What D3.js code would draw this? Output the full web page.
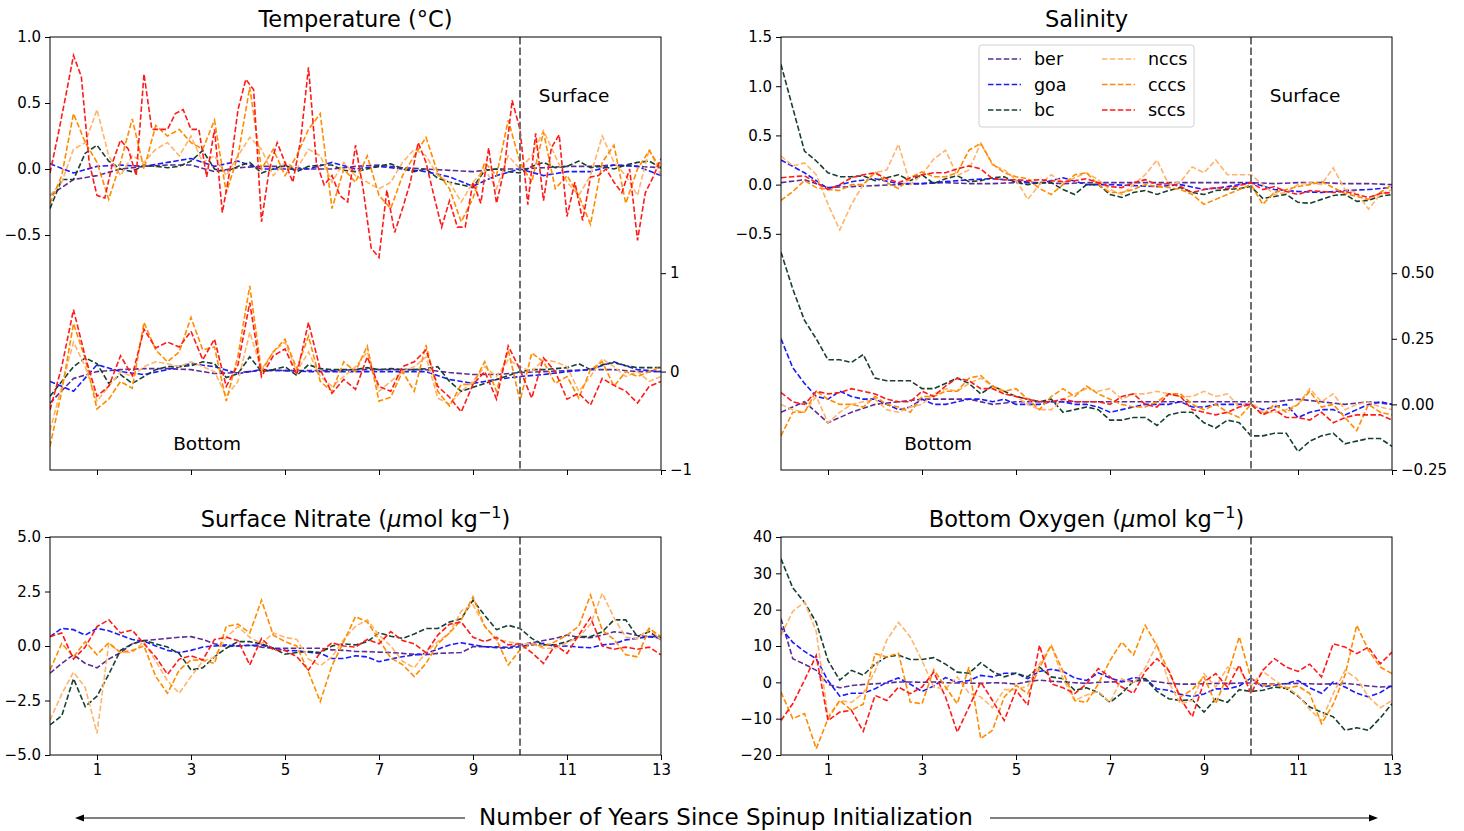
<!DOCTYPE html>
<html><head><meta charset="utf-8">
<script src="https://cdn.jsdelivr.net/npm/d3@7"></script>
<style>body{margin:0;background:#fff}svg{display:block}text{font-family:"DejaVu Sans",sans-serif;fill:#000}</style>
</head><body><svg id="c" width="1464" height="831"></svg>
<script>
const years = [1,3,5,7,9,11,13];
const seriesNames = ["ber","goa","bc","nccs","cccs","sccs"];
const seriesColors = ["#5b2c92","#1a1aff","#17402f","#ffb46a","#ff8c00","#ff1a1a"];

// Temperature, surface (left axis)
const tempSurfBer = [-0.20,-0.08,-0.05,0.00,0.02,0.03,0.03,-0.02,0.01,0.02,0.02,0.00,0.00,0.02,0.03,0.01,0.00,-0.01,-0.02,0.00,0.00,0.01,0.02,0.02,0.03,0.02,0.01];
const tempSurfGoa = [0.04,-0.03,0.02,0.03,0.02,0.05,0.08,0.02,0.06,0.00,0.00,0.00,0.05,0.00,0.02,0.00,-0.02,-0.06,-0.13,-0.05,0.00,-0.05,-0.02,-0.02,0.03,0.02,-0.05];
const tempSurfBc = [-0.30,-0.08,-0.08,0.12,0.18,0.06,0.00,-0.02,0.03,0.02,0.01,0.02,0.06,0.14,0.00,-0.02,0.02,0.05,-0.03,0.00,0.03,-0.02,0.02,0.03,0.03,-0.01,-0.02,0.00,0.02,0.04,0.00,-0.02,0.00,-0.07,-0.10,-0.12,-0.14,-0.01,0.00,-0.02,-0.03,0.02,0.05,0.01,0.02,0.06,0.01,0.02,0.00,0.03,0.05,0.06,0.01];
const tempSurfNccs = [-0.20,-0.10,0.15,0.20,0.45,0.10,-0.05,0.10,0.05,0.15,0.20,0.10,0.25,0.05,0.10,-0.05,0.10,0.24,0.15,-0.05,0.05,0.00,0.15,0.10,-0.10,0.05,-0.05,-0.10,-0.15,-0.10,0.05,0.15,0.10,-0.05,-0.10,-0.25,-0.10,0.00,-0.15,0.10,0.00,0.10,0.29,0.10,-0.10,-0.20,-0.05,0.25,0.05,-0.05,-0.20,0.15,-0.05];
const tempSurfCccs = [-0.26,-0.05,0.42,0.20,0.05,-0.23,0.05,0.38,0.00,0.33,0.25,0.30,0.20,0.15,0.37,-0.18,0.10,0.62,0.00,0.15,-0.05,0.10,0.30,0.42,-0.30,0.00,-0.10,0.10,-0.20,-0.30,-0.05,0.10,0.24,-0.03,-0.15,-0.40,-0.22,0.05,-0.05,0.37,0.05,-0.10,0.28,-0.15,-0.05,-0.20,-0.42,0.05,0.18,-0.26,0.00,0.14,0.00];
const tempSurfSccs = [-0.03,0.25,0.55,0.86,0.70,0.05,-0.20,-0.22,0.05,0.22,0.15,-0.05,0.72,0.30,0.30,0.30,0.42,0.45,0.30,0.30,-0.06,0.30,-0.33,0.00,0.45,0.68,0.60,-0.40,0.00,0.20,0.05,-0.10,0.22,0.77,0.05,-0.12,-0.05,-0.20,-0.25,0.18,-0.16,-0.60,-0.67,-0.16,-0.48,-0.30,-0.10,0.20,0.05,-0.20,-0.44,-0.24,-0.44,-0.44,-0.10,-0.26,0.16,-0.26,0.00,0.52,0.30,-0.27,0.27,-0.24,0.16,0.26,-0.36,-0.10,-0.39,-0.06,-0.05,0.00,-0.10,-0.18,0.00,-0.54,-0.18,-0.06,0.08];

// Temperature, bottom (right axis)
const tempBotBer = [-0.32,-0.07,0.00,0.02,0.03,0.03,0.02,-0.02,-0.01,0.01,0.01,0.01,0.01,0.02,0.02,0.02,0.02,-0.01,-0.03,-0.03,-0.01,0.00,0.01,0.02,0.02,0.00,0.00];
const tempBotGoa = [-0.10,-0.20,0.07,0.00,-0.03,0.02,0.08,0.05,-0.02,0.02,0.01,0.00,0.00,0.00,0.00,0.00,0.00,-0.08,-0.12,-0.08,-0.05,-0.03,0.00,0.02,0.10,0.02,0.00];
const tempBotBc = [-0.25,-0.10,0.05,0.14,0.08,-0.12,-0.03,-0.12,-0.05,0.02,0.05,0.05,0.06,0.10,0.08,-0.06,-0.02,0.15,0.00,0.02,0.05,-0.04,0.07,0.03,0.02,0.02,0.02,0.04,0.02,0.03,0.02,0.02,0.03,0.05,-0.10,-0.20,-0.16,-0.12,-0.08,-0.04,0.00,0.02,0.02,0.03,0.04,0.08,0.02,0.07,0.09,0.06,0.04,0.04,0.04];
const tempBotNccs = [-0.60,-0.15,0.30,0.05,-0.30,-0.15,0.00,-0.05,0.05,0.10,0.08,0.05,0.10,0.05,0.00,-0.25,-0.10,0.40,0.02,0.20,0.30,0.00,0.20,-0.05,-0.15,-0.05,0.05,0.20,-0.20,-0.10,0.00,0.05,0.15,-0.27,-0.33,-0.20,-0.10,0.05,-0.05,0.12,0.05,0.00,0.12,0.10,0.05,-0.20,-0.05,0.13,0.05,-0.05,0.00,-0.10,-0.05];
const tempBotCccs = [-0.76,-0.20,0.49,0.13,-0.38,-0.28,-0.10,-0.17,0.50,0.22,0.10,0.20,0.55,0.22,0.25,-0.30,0.16,0.87,0.00,0.20,0.33,0.03,0.36,-0.10,-0.20,0.10,0.00,0.26,-0.30,-0.26,0.00,-0.20,0.27,-0.20,-0.35,-0.13,-0.13,0.10,-0.20,0.22,-0.30,0.19,0.10,-0.12,-0.05,-0.27,0.02,0.10,-0.15,0.00,-0.05,0.00,0.05];
const tempBotSccs = [-0.39,0.05,0.63,0.15,-0.25,-0.15,0.16,-0.04,0.43,0.24,0.30,0.25,0.41,0.12,0.33,-0.15,0.07,0.70,-0.05,0.16,0.23,-0.03,0.50,0.02,-0.22,-0.08,-0.18,0.15,-0.15,-0.20,0.05,0.10,0.22,-0.15,-0.26,-0.41,-0.13,0.00,-0.28,0.26,0.02,-0.27,0.14,0.00,-0.28,-0.22,-0.34,-0.07,-0.14,-0.20,-0.32,-0.15,-0.10];

// Salinity, surface (left axis)
const salSurfBer = [0.02,0.05,-0.03,-0.02,-0.01,0.00,0.01,0.02,0.01,0.01,0.02,0.02,0.01,0.02,0.02,0.02,0.02,0.02,0.02,0.02,0.02,0.01,0.02,0.02,0.01,0.01,0.00];
const salSurfGoa = [0.25,0.12,-0.04,0.03,0.06,0.01,0.01,0.03,0.05,0.06,0.04,0.01,0.07,0.00,0.00,-0.01,-0.02,0.00,-0.05,-0.02,0.02,-0.05,-0.07,-0.08,-0.06,-0.05,-0.03];
const salSurfBc = [1.22,0.78,0.34,0.24,0.12,0.08,0.08,0.09,0.04,0.07,0.10,0.04,0.10,0.01,0.06,0.09,0.03,0.04,0.07,0.08,0.02,0.00,0.02,0.02,-0.05,-0.10,0.00,0.00,-0.10,-0.13,-0.08,-0.06,-0.10,-0.06,-0.03,-0.08,-0.10,-0.06,-0.05,-0.04,-0.02,-0.14,-0.12,-0.10,-0.18,-0.19,-0.15,-0.11,-0.10,-0.17,-0.16,-0.12,-0.10];
const salSurfNccs = [0.29,0.19,0.22,0.10,-0.20,-0.46,-0.20,0.00,0.12,0.15,0.41,0.00,0.10,0.26,0.35,0.09,0.15,0.42,0.20,0.15,0.05,-0.15,0.00,0.10,0.02,0.07,0.12,0.05,-0.05,-0.10,0.00,0.10,0.25,0.00,0.03,0.18,0.12,0.25,0.10,0.10,0.10,0.00,-0.10,-0.08,0.00,0.02,0.00,0.17,-0.05,-0.08,-0.25,-0.10,-0.05];
const salSurfCccs = [-0.16,-0.07,0.04,-0.03,-0.05,-0.06,0.00,0.00,0.13,0.02,-0.04,0.07,0.13,0.08,0.08,0.12,0.35,0.42,0.21,0.12,0.08,0.06,-0.04,-0.10,0.00,0.10,0.12,0.00,-0.08,-0.08,-0.05,0.00,-0.02,-0.03,-0.05,-0.10,-0.20,-0.15,-0.10,-0.05,0.00,-0.20,-0.08,-0.05,-0.02,0.00,0.03,-0.03,-0.09,-0.12,-0.15,-0.08,0.00];
const salSurfSccs = [0.07,0.08,0.09,0.02,-0.05,0.00,0.07,0.10,0.12,0.06,0.02,0.07,0.10,0.12,0.12,0.16,0.19,0.16,0.06,0.05,0.05,0.04,0.05,0.04,0.03,0.04,0.06,0.02,-0.02,-0.03,0.02,0.05,0.00,0.01,-0.02,-0.08,-0.05,-0.03,-0.04,-0.01,0.02,-0.05,-0.02,-0.07,-0.10,-0.06,-0.07,-0.08,-0.07,-0.10,-0.13,-0.09,-0.08];

// Salinity, bottom (right axis)
const salBotBer = [-0.03,0.01,-0.07,-0.03,0.00,0.01,0.02,0.02,0.02,0.00,0.01,0.01,0.01,0.01,0.01,0.01,0.01,0.01,0.01,0.01,0.01,0.01,0.02,0.01,0.00,0.01,0.00];
const salBotGoa = [0.25,0.14,0.08,0.03,0.02,0.05,0.03,0.02,0.02,0.00,-0.02,-0.01,0.02,0.00,0.00,0.01,0.02,0.02,0.01,0.02,0.00,0.00,0.00,0.01,0.01,0.00,0.00,-0.01,-0.03,-0.02,-0.01,0.00,0.00,0.00,0.01,-0.01,-0.01,0.00,0.00,0.00,0.00,-0.02,-0.01,0.00,-0.05,-0.03,-0.02,-0.02,-0.04,-0.02,0.00,0.01,0.00];
const salBotBc = [0.58,0.44,0.32,0.25,0.17,0.17,0.16,0.19,0.10,0.09,0.09,0.09,0.06,0.06,0.08,0.10,0.08,0.04,0.07,0.05,0.03,0.02,0.01,0.02,-0.03,-0.02,-0.01,-0.02,-0.06,-0.06,-0.05,-0.05,-0.08,-0.04,-0.03,-0.03,-0.07,-0.09,-0.06,-0.07,-0.12,-0.12,-0.11,-0.11,-0.18,-0.14,-0.12,-0.11,-0.15,-0.14,-0.13,-0.13,-0.16];
const salBotNccs = [0.00,-0.02,-0.03,0.03,-0.07,-0.03,0.00,0.01,0.02,-0.02,-0.03,-0.01,0.00,0.04,0.06,0.05,0.08,0.10,0.07,0.04,0.03,0.00,-0.02,-0.02,0.02,0.04,0.06,0.05,0.06,0.02,0.04,0.04,0.05,0.04,0.03,0.03,0.05,0.03,0.04,-0.01,0.01,-0.03,-0.03,-0.02,0.00,0.06,0.01,0.04,-0.02,0.00,0.01,-0.01,-0.02];
const salBotCccs = [-0.12,-0.03,-0.03,0.05,0.02,0.00,0.00,-0.01,0.03,0.00,-0.01,-0.03,0.03,0.03,0.05,0.05,0.10,0.11,0.07,0.05,0.06,0.02,-0.02,0.03,0.06,0.03,0.07,0.04,0.02,0.00,-0.01,-0.01,0.01,0.04,0.04,0.00,-0.02,0.00,-0.03,-0.05,0.00,-0.04,0.00,-0.03,0.00,0.05,-0.01,0.00,-0.05,-0.10,0.00,-0.03,-0.04];
const salBotSccs = [0.045,0.01,0.00,0.05,0.04,0.045,0.06,0.05,0.04,0.02,0.01,0.01,0.05,0.03,0.07,0.10,0.09,0.06,0.06,0.04,0.03,0.02,0.01,0.01,0.02,0.01,0.01,0.01,0.00,0.03,0.04,0.00,-0.01,0.04,0.03,-0.02,-0.03,-0.04,-0.03,-0.01,0.00,-0.04,-0.02,-0.05,-0.05,-0.06,-0.03,-0.07,-0.05,-0.04,-0.04,-0.04,-0.06];

// Surface nitrate
const nitBer = [-1.25,-0.80,-0.40,-0.80,-1.00,-0.60,-0.30,0.10,0.25,0.30,0.35,0.40,0.43,0.30,0.10,-0.03,0.00,0.05,-0.05,-0.10,-0.10,-0.10,-0.10,-0.10,-0.18,-0.20,-0.25,-0.26,-0.28,-0.30,-0.34,-0.38,-0.40,-0.34,-0.32,-0.30,-0.03,-0.03,-0.04,-0.06,0.05,0.15,0.25,0.35,0.50,0.40,0.38,0.50,0.65,0.60,0.48,0.43,0.43];
const nitGoa = [0.43,0.81,0.75,0.50,0.81,0.70,0.50,0.30,0.22,0.00,-0.20,-0.30,-0.20,-0.05,0.00,0.05,0.00,0.02,0.05,-0.10,-0.20,-0.22,-0.28,-0.34,-0.57,-0.57,-0.45,-0.50,-0.72,-0.60,-0.49,-0.41,-0.34,-0.15,0.05,0.15,0.05,-0.03,-0.08,-0.10,-0.03,0.05,0.12,-0.03,0.00,-0.05,-0.08,0.05,0.10,0.28,0.35,0.43,0.35];
const nitBc = [-3.62,-3.20,-1.50,-2.78,-2.30,-1.30,-0.20,0.10,0.25,0.10,-0.05,-0.35,-1.10,-1.00,-0.50,-0.10,0.20,0.20,0.10,-0.10,-0.38,-0.30,-0.25,-0.30,0.00,0.10,0.05,0.20,0.60,0.45,0.35,0.55,0.80,0.80,1.10,1.25,2.10,1.40,0.75,0.95,0.80,0.35,0.05,0.05,0.20,0.43,0.43,0.65,1.20,1.20,0.43,0.66,0.28];
const nitNccs = [-3.40,-2.20,-1.20,-1.90,-4.00,0.10,-0.30,-0.30,0.20,-0.70,-1.60,-2.17,-1.40,-0.70,-0.50,0.40,0.89,0.40,0.10,0.60,0.40,0.30,-0.60,-0.90,-0.50,0.30,0.90,1.20,0.50,0.00,-0.70,-1.00,-0.30,0.20,0.60,1.60,1.90,0.90,0.30,0.20,0.10,0.10,-0.10,-0.10,0.15,0.40,1.00,2.42,1.30,0.40,0.35,0.80,0.28];
const nitCccs = [-1.10,0.12,-0.50,0.20,-0.40,0.15,-0.30,-0.20,0.00,-1.40,-2.17,-1.10,-0.64,-0.65,-0.80,0.90,1.00,0.60,2.10,0.50,0.20,0.00,-1.20,-2.55,-0.90,0.20,1.35,1.10,0.30,-0.55,-0.85,-1.40,-0.80,0.10,0.60,1.20,2.26,0.90,0.30,-0.87,-0.18,0.10,-0.03,0.20,0.50,0.90,2.34,0.73,0.30,-0.40,-0.50,0.81,0.43];
const nitSccs = [0.43,0.60,-0.60,-0.05,0.89,1.20,0.60,0.73,0.10,-0.50,-1.30,-0.60,-0.45,-0.64,0.30,0.40,0.25,-0.87,0.35,-0.18,-0.20,-0.49,-1.10,-0.30,0.15,0.00,-0.05,0.30,0.10,0.66,0.25,0.10,-0.30,0.50,1.00,1.10,0.40,0.20,0.40,0.05,0.10,-0.30,-0.80,0.05,-0.34,0.50,1.30,0.00,-0.15,-0.05,-0.15,-0.05,-0.41];

// Bottom oxygen
const oxyBer = [17.5,6.5,5.0,3.3,-0.5,-1.5,-0.9,-0.6,-0.4,-0.2,0.1,0.1,0.0,0.1,-0.1,-0.2,-0.2,-0.3,-0.1,-0.2,-0.5,0.2,0.6,0.3,0.1,-0.1,-0.3,0.0,0.1,0.2,0.4,0.5,0.2,-0.3,-0.5,-0.5,-0.4,-0.3,-0.3,-0.2,-0.2,-0.4,-0.5,-0.4,-0.3,-0.4,-0.5,-0.4,-0.3,-0.6,-1.0,-1.3,-1.1];
const oxyGoa = [15,11,8.5,6.5,0.5,-3.8,-3.0,-3.0,-1.8,0.0,1.2,-0.5,-2.5,-1.0,1.3,0.0,0.5,1.9,1.5,2.5,2.5,1.0,3.0,3.6,3.0,1.2,0.5,2.6,1.2,0.2,1.3,1.0,-1.8,-2.2,-3.3,-3.9,-3.2,-1.8,-1.8,-1.0,1.2,-1.2,-0.8,-0.3,0.5,-1.5,-3.0,0.1,-1.3,-3.0,-4.0,-2.8,-0.8];
const oxyBc = [34,26,22,16.5,6,0.6,3.3,2.0,5,7,7.5,6.3,6.3,6.8,5,2.8,2.5,5.4,3,1.5,2.5,1.5,4.2,1.5,1.0,-2.2,-1.5,-2.8,-5.5,-3.0,0.3,1.0,-2.5,-4.5,-5.0,-4.8,-8.2,-4.5,-5.5,-2.0,-2.5,-2.2,-1.3,-1.7,-3.8,-6.8,-8.2,-9.5,-13.2,-12.5,-13.2,-9.8,-5.9];
const oxyNccs = [13,19.5,22.1,14,-9.5,-5.0,-5.5,-3.0,3.0,11.6,16.5,12.5,6.0,-1.3,-1.8,1.5,-3.0,-4.0,-7.0,-2.0,-2.0,-1.0,5.1,10.2,1.0,-5.0,-3.5,-2.5,-5.5,1.0,-0.4,4.0,10.5,0.0,-5.9,-5.0,2.4,-1.3,4.2,3.5,-1.0,3.0,0.6,-1.3,-3.5,-7.5,-10.5,-3.1,3.3,1.0,-4.0,-7.0,-5.0];
const oxyCccs = [-2.7,-10,-8.6,-18.3,-10.0,-5.0,-7.7,-6.0,7.9,7.0,8.0,-5.4,-5.9,3.5,-1.3,-5.9,4.2,-15.5,-13.2,-4.0,-0.8,-3.1,4.0,10.2,3.0,-5.0,-5.5,-0.5,6.0,11.1,7.5,15.7,10.0,3.0,-4.0,-2.0,1.5,-5.9,2.0,12.5,1.0,-1.0,-0.5,-1.7,-1.0,-3.1,-11.4,-6.0,2.0,15.7,8.8,4.2,2.4];
const oxySccs = [-10.5,-5.9,0.6,7.4,-10.5,-8.2,-7.7,-13.5,-3.6,-5.0,-1.3,-3.1,-1.3,2.8,-4.0,-13.7,-6.8,0.1,-5.0,-10.5,-2.2,-6.3,10.2,-0.4,-1.5,-3.1,-0.4,3.8,1.5,-1.3,-3.0,3.0,6.5,3.3,-4.5,-9.5,0.1,2.4,-1.3,4.7,-3.1,3.3,6.5,4.2,3.0,5.0,1.5,10.6,9.7,7.9,9.7,5.1,8.3];

// tick labels
const tempLeftTicks = [1.0,0.5,0.0,-0.5];
const tempRightTicks = [1,0,-1];
const salLeftTicks = [1.5,1.0,0.5,0.0,-0.5];
const salRightTicks = [0.5,0.25,0.0,-0.25];
const nitTicks = [5.0,2.5,0.0,-2.5,-5.0];
const oxyTicks = [40,30,20,10,0,-10,-20];

const svg = d3.select("#c");
const dash = "5.5,2.4";
const tickFont = "15px";

function drawSeries(g, list, xs, ys) {
  list.forEach((arr, k) => {
    const n = arr.length;
    const line = d3.line().x((d,i)=>xs(13*i/(n-1))).y(d=>ys(d));
    g.append("path").attr("d", line(arr)).attr("fill","none")
      .attr("stroke", seriesColors[k]).attr("stroke-width",1.6)
      .attr("stroke-dasharray", dash);
  });
}

function styleAxis(sel){
  sel.select(".domain").remove();
  sel.selectAll(".tick line").attr("stroke","#000").attr("stroke-width",1);
  sel.selectAll(".tick text").style("font-size",tickFont).style("font-family","DejaVu Sans").attr("fill","#000");
}

function makePanel(o){
  const W = o.w, H = o.h;
  const g = svg.append("g").attr("transform",`translate(${o.left},${o.top})`);
  const xs = d3.scaleLinear().domain([0,13]).range([0,W]);
  const id = "clip"+o.id;
  g.append("clipPath").attr("id",id).append("rect").attr("width",W).attr("height",H);
  const plot = g.append("g").attr("clip-path",`url(#${id})`);
  const yL = d3.scaleLinear().domain(o.leftDomain).range([H,0]);
  drawSeries(plot, o.leftSeries, xs, yL);
  let yR = null;
  if (o.rightSeries){
    yR = d3.scaleLinear().domain(o.rightDomain).range([H,0]);
    drawSeries(plot, o.rightSeries, xs, yR);
  }
  g.append("line").attr("x1",xs(10)).attr("x2",xs(10)).attr("y1",0).attr("y2",H)
    .attr("stroke","#6e6e6e").attr("stroke-width",2).attr("stroke-dasharray","7.4,3.2");
  g.append("rect").attr("width",W).attr("height",H).attr("fill","none").attr("stroke","#000").attr("stroke-width",1);
  const ax = d3.axisLeft(yL).tickValues(o.leftTicks).tickFormat(d3.format(o.leftFmt)).tickSize(5).tickPadding(4);
  styleAxis(g.append("g").call(ax));
  if (yR){
    const axr = d3.axisRight(yR).tickValues(o.rightTicks).tickFormat(d3.format(o.rightFmt)).tickSize(5).tickPadding(4);
    styleAxis(g.append("g").attr("transform",`translate(${W},0)`).call(axr));
  }
  const axb = d3.axisBottom(xs).tickValues(years).tickSize(5).tickPadding(4)
      .tickFormat(o.xLabels ? d3.format("d") : ()=>"");
  styleAxis(g.append("g").attr("transform",`translate(0,${H})`).call(axb));
  const t = g.append("text").attr("x",W/2).attr("y",-10).attr("text-anchor","middle").style("font-size","22.5px");
  o.title(t);
  if (o.labels){
    g.append("text").attr("x",xs(10.4)).attr("y",65).style("font-size","18.5px").text("Surface");
    g.append("text").attr("x",xs(2.62)).attr("y",413).style("font-size","18.5px").text("Bottom");
  }
  return {g, xs};
}

makePanel({id:1,left:50,top:37,w:611,h:433,
  leftDomain:[-2.28,1.0], leftTicks:tempLeftTicks, leftFmt:".1f",
  rightDomain:[-1,3.4], rightTicks:tempRightTicks, rightFmt:"d",
  leftSeries:[tempSurfBer,tempSurfGoa,tempSurfBc,tempSurfNccs,tempSurfCccs,tempSurfSccs],
  rightSeries:[tempBotBer,tempBotGoa,tempBotBc,tempBotNccs,tempBotCccs,tempBotSccs],
  xLabels:false, labels:true,
  title:t=>{t.text("Temperature (°C)");}
});
makePanel({id:2,left:781,top:37,w:611,h:433,
  leftDomain:[-2.9,1.5], leftTicks:salLeftTicks, leftFmt:".1f",
  rightDomain:[-0.25,1.4], rightTicks:salRightTicks, rightFmt:".2f",
  leftSeries:[salSurfBer,salSurfGoa,salSurfBc,salSurfNccs,salSurfCccs,salSurfSccs],
  rightSeries:[salBotBer,salBotGoa,salBotBc,salBotNccs,salBotCccs,salBotSccs],
  xLabels:false, labels:true,
  title:t=>{t.text("Salinity");}
});
function unitTitle(t, name){
  t.append("tspan").text(name+" (");
  t.append("tspan").style("font-style","italic").text("μ");
  t.append("tspan").text("mol kg");
  t.append("tspan").attr("dy",-9).style("font-size","16px").text("−1");
  t.append("tspan").attr("dy",9).text(")");
}
makePanel({id:3,left:50,top:537,w:611,h:218,
  leftDomain:[-5,5], leftTicks:nitTicks, leftFmt:".1f",
  leftSeries:[nitBer,nitGoa,nitBc,nitNccs,nitCccs,nitSccs],
  xLabels:true, labels:false,
  title:t=>unitTitle(t,"Surface Nitrate")
});
makePanel({id:4,left:781,top:537,w:611,h:218,
  leftDomain:[-20,40], leftTicks:oxyTicks, leftFmt:"d",
  leftSeries:[oxyBer,oxyGoa,oxyBc,oxyNccs,oxyCccs,oxySccs],
  xLabels:true, labels:false,
  title:t=>unitTitle(t,"Bottom Oxygen")
});

// legend in salinity panel
const lg = svg.append("g").attr("transform","translate(979,45)");
lg.append("rect").attr("width",215).attr("height",82).attr("rx",3)
  .attr("fill","#fff").attr("fill-opacity",0.85).attr("stroke","#d0d0d0").attr("stroke-width",1);
seriesNames.forEach((name,k)=>{
  const col = Math.floor(k/3), row = k%3;
  const x0 = 9 + col*114, y0 = 14 + row*25.5;
  lg.append("line").attr("x1",x0).attr("x2",x0+33).attr("y1",y0).attr("y2",y0)
    .attr("stroke",seriesColors[k]).attr("stroke-width",1.6).attr("stroke-dasharray",dash);
  lg.append("text").attr("x",x0+46).attr("y",y0+6).style("font-size","17.5px").text(name);
});

// bottom axis label with arrows
svg.append("text").attr("x",726).attr("y",825).attr("text-anchor","middle").style("font-size","23px")
  .text("Number of Years Since Spinup Initialization");
const ay = 818;
svg.append("line").attr("x1",465).attr("x2",82).attr("y1",ay).attr("y2",ay).attr("stroke","#000").attr("stroke-width",1);
svg.append("path").attr("d",`M75,${ay} L84,${ay-3.5} L84,${ay+3.5} Z`).attr("fill","#000");
svg.append("line").attr("x1",990).attr("x2",1371).attr("y1",ay).attr("y2",ay).attr("stroke","#000").attr("stroke-width",1);
svg.append("path").attr("d",`M1378,${ay} L1369,${ay-3.5} L1369,${ay+3.5} Z`).attr("fill","#000");
</script></body></html>
